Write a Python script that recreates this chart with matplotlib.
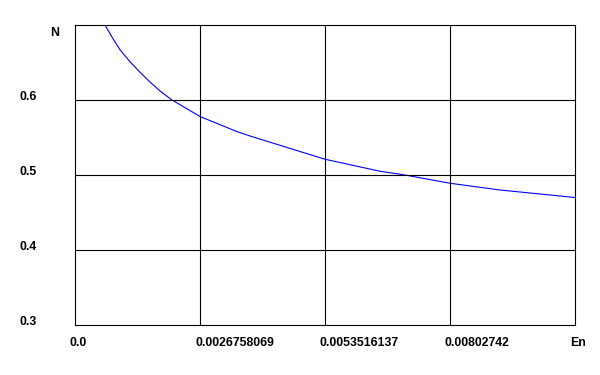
import matplotlib
matplotlib.use("Agg")
import matplotlib.pyplot as plt
import matplotlib.transforms as mtransforms

# curve
en = [0.000642, 0.000820, 0.000963, 0.001177, 0.001391, 0.001605, 0.001820,
      0.002076, 0.002676, 0.003461, 0.003746, 0.005352, 0.006529, 0.007064,
      0.008027, 0.009098, 0.010703]
n = [0.700, 0.681, 0.667, 0.651, 0.637, 0.624, 0.612,
     0.600, 0.578, 0.558, 0.552, 0.521, 0.505, 0.500,
     0.489, 0.480, 0.470]

x_ticks = [0.0, 0.0026758069, 0.0053516137, 0.00802742, 0.0107032275]
x_labels = ["0.0", "0.0026758069", "0.0053516137", "0.00802742", "En"]
y_ticks = [0.3, 0.4, 0.5, 0.6]
y_labels = ["0.3", "0.4", "0.5", "0.6"]

plt.rcParams['font.family'] = ['Liberation Sans', 'DejaVu Sans']
plt.rcParams['font.weight'] = 'bold'
plt.rcParams['font.size'] = 8.8

fig = plt.figure(figsize=(6, 3.75), dpi=100)
ax = fig.add_axes([75 / 600, 1 - 325 / 375, 500 / 600, 300 / 375])

ax.plot(en, n, color='#0000ff', linewidth=0.8)

ax.set_xlim(0, x_ticks[-1])
ax.set_ylim(0.3, 0.7)

for x in x_ticks[1:-1]:
    ax.axvline(x, color='black', linewidth=0.8)
for y in y_ticks[1:]:
    ax.axhline(y, color='black', linewidth=0.8)

for s in ax.spines.values():
    s.set_color('black')
    s.set_linewidth(0.8)

ax.set_xticks(x_ticks)
ax.set_xticklabels(x_labels)
ax.set_yticks(y_ticks)
ax.set_yticklabels(y_labels)
ax.tick_params(length=0)
ax.tick_params(axis='x', pad=8.5)
ax.tick_params(axis='y', pad=39.6)

dx = mtransforms.ScaledTranslation(-5 / 100, 0, fig.dpi_scale_trans)
for lab in ax.get_xticklabels():
    lab.set_ha('left')
    lab.set_transform(lab.get_transform() + dx)
for lab in ax.get_yticklabels():
    lab.set_ha('left')
    lab.set_va('baseline')

ax.text(-25 / 500, 1 - 11 / 300, "N", transform=ax.transAxes,
        ha='left', va='baseline')

fig.savefig("out.png", dpi=100, facecolor='white')
